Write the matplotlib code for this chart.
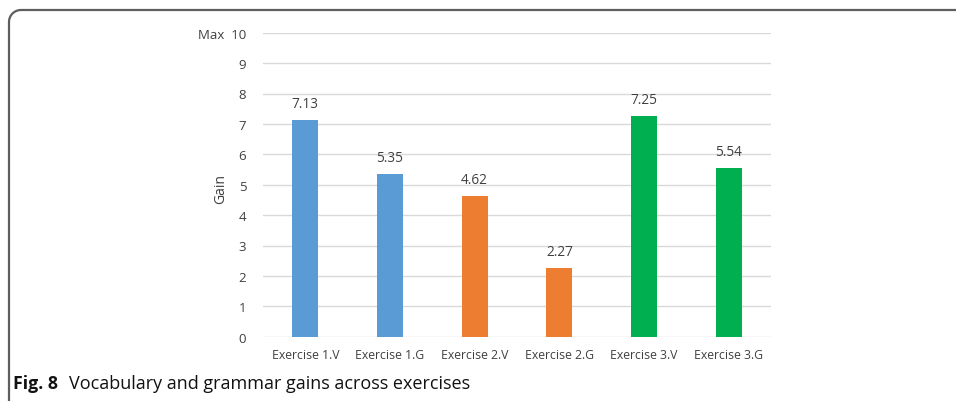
import numpy as np
import matplotlib
matplotlib.use("Agg")
import matplotlib.pyplot as plt
from matplotlib.lines import Line2D

categories = ["Exercise 1.V", "Exercise 1.G", "Exercise 2.V", "Exercise 2.G", "Exercise 3.V", "Exercise 3.G"]
gains = [7.13, 5.35, 4.62, 2.27, 7.25, 5.54]
bar_colors = ["#5B9BD5", "#5B9BD5", "#ED7D31", "#ED7D31", "#00B050", "#00B050"]
ytick_values = [0, 1, 2, 3, 4, 5, 6, 7, 8, 9, 10]
ytick_labels = ["0", "1", "2", "3", "4", "5", "6", "7", "8", "9", "Max  10"]

plt.rcParams['font.family'] = ['Open Sans', 'DejaVu Sans']
W, H = 956, 402
fig = plt.figure(figsize=(W / 100, H / 100), dpi=100)
ax = fig.add_axes([263 / W, 1 - 337.7 / H, (771 - 263) / W, (337.7 - 33.7) / H])

x = np.arange(len(categories))
ax.bar(x, gains, width=0.31, color=bar_colors, zorder=3)
for xi, v in zip(x, gains):
    ax.annotate(f"{v:.2f}", (xi, v), xytext=(0, 12), textcoords="offset points",
                ha="center", va="center", fontsize=9.8, color="#404040")

ax.set_xlim(-0.5, len(categories) - 0.5)
ax.set_ylim(0, 10)
ax.set_yticks(ytick_values)
ax.set_yticklabels(ytick_labels)
ax.set_xticks(x)
ax.set_xticklabels(categories)
ax.tick_params(axis="both", length=0, labelcolor="#404040")
ax.tick_params(axis="y", pad=12, labelsize=9.5)
ax.tick_params(axis="x", pad=8, labelsize=8.8)
ax.grid(axis="y", color="#D9D9D9", linewidth=1, zorder=0)
for s in ax.spines.values():
    s.set_visible(False)
ax.set_ylabel("Gain", fontsize=10, color="#404040")
ax.yaxis.set_label_coords(-0.068, 0.49)

# Caption
fig.text(13 / W, 1 - 384 / H, "Fig. 8", fontsize=12.8, fontweight="bold", va="center", ha="left", color="#111111")
fig.text(69 / W, 1 - 384 / H, "Vocabulary and grammar gains across exercises", fontsize=13,
         va="center", ha="left", color="#111111")

# Frame with rounded top-left corner (pixel coordinates)
r = 12
x0, ytop = 9, H - 11
theta = np.linspace(np.pi, np.pi / 2, 20)
arc_x = x0 + r + r * np.cos(theta)
arc_y = ytop - r + r * np.sin(theta)
px = np.concatenate([[x0], arc_x, [W + 10]])
py = np.concatenate([[-10], arc_y, [ytop]])
fig.add_artist(Line2D(px / W, py / H, transform=fig.transFigure, color="#5E5E5E", linewidth=1.6))

fig.savefig("out.png", dpi=100)
